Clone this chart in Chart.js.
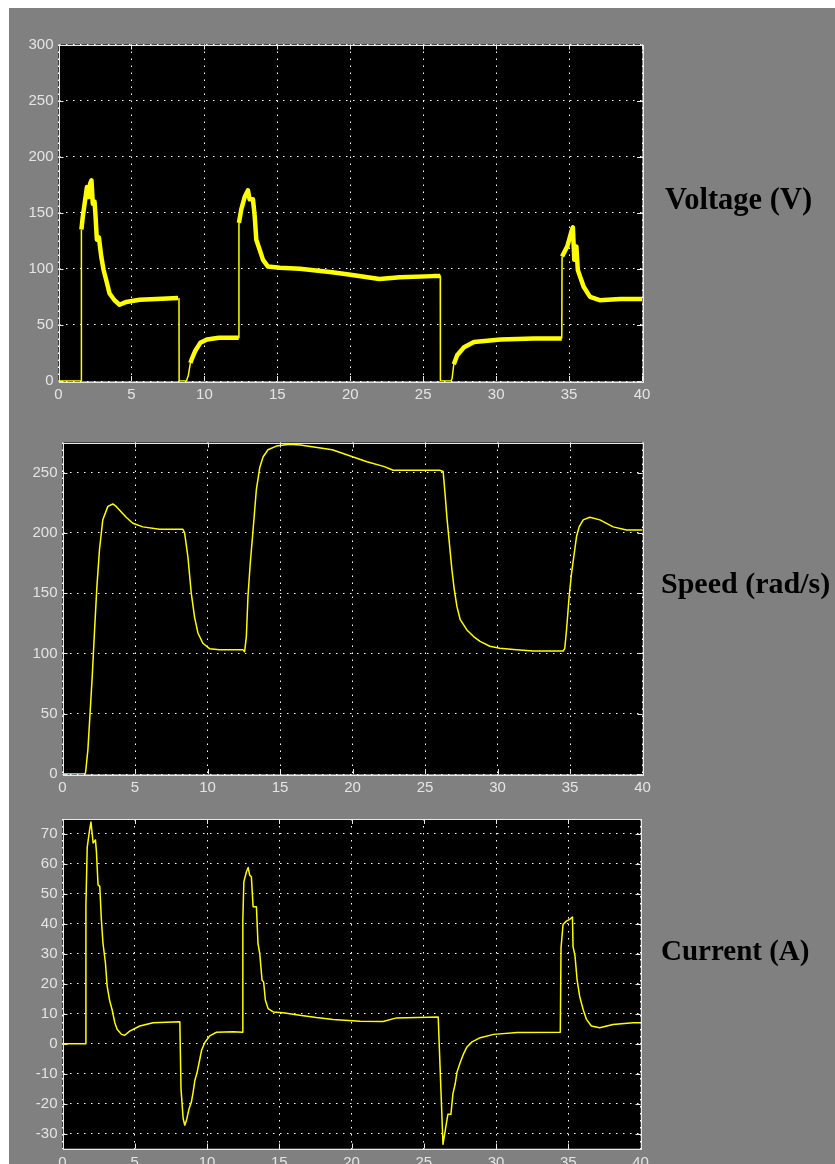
<!DOCTYPE html>
<html>
<head>
<meta charset="utf-8">
<script src="https://cdn.jsdelivr.net/npm/chart.js@4.4.1/dist/chart.umd.min.js"></script>
<style>
  html, body { margin: 0; padding: 0; background: #fff; overflow: hidden; }
  #page { position: relative; width: 835px; height: 1164px; overflow: hidden; }
  #backdrop { position: absolute; left: 9px; top: 8px; right: 0; bottom: 0; background: #808080; }
  canvas { position: absolute; left: 0; }
  .name { position: absolute; font-family: "Liberation Serif", "Times New Roman", serif; font-weight: bold; color: #000; line-height: 30px; white-space: nowrap; }
</style>
</head>
<body>
<div id="page">
  <div id="backdrop"></div>
  <canvas id="voltageChart" width="835" height="420" style="top:0px"></canvas>
  <canvas id="speedChart" width="835" height="395" style="top:415px"></canvas>
  <canvas id="currentChart" width="835" height="390" style="top:800px"></canvas>
  <div class="name" style="left:665px; top:184px; font-size:30.5px">Voltage (V)</div>
  <div class="name" style="left:661px; top:568px; font-size:30px">Speed (rad/s)</div>
  <div class="name" style="left:661px; top:935px; font-size:29px">Current (A)</div>
</div>
<script>
// time axis (s)
const timeTicks = [0, 5, 10, 15, 20, 25, 30, 35, 40];

// Voltage (V)
const voltageTime = [0, 1.56, 1.57, 1.67, 1.79, 1.95, 2.08, 2.17, 2.26, 2.35, 2.47, 2.54, 2.63, 2.77, 2.93, 3.09, 3.27, 3.5, 3.84, 4.19, 4.65, 5.56, 6.71, 8.2, 8.26,
  8.27, 8.77, 8.9, 9.04, 9.15, 9.38, 9.72, 10.18, 11.0, 12.36,
  12.37, 12.53, 12.76, 12.99, 13.1, 13.33, 13.45, 13.56, 13.79, 14.02, 14.36, 15.17, 16.55, 18.75, 19.9, 22.0, 23.4, 25.7, 26.17,
  26.18, 26.9, 26.98, 27.1, 27.33, 27.8, 28.48, 30.31, 32.6, 34.5,
  34.52, 34.88, 35.2, 35.26, 35.36, 35.5, 35.6, 35.76, 36.0, 36.44, 37.1, 38.5, 40];
const voltageValues = [0, 0, 135, 147, 158, 173, 164, 176, 179, 158, 160, 147, 126, 128, 111, 99, 90, 78, 72, 68, 70.5, 72.5, 73, 74, 74,
  0, 0, 5, 16, 20, 27, 34, 37, 38.5, 38.5,
  141, 153, 164, 170, 162, 162, 147, 126, 117, 108, 102, 101, 100, 97, 95, 91, 92.5, 93.5, 93.5,
  0, 0, 2, 15, 23, 30, 34.8, 37, 37.8, 37.8,
  111, 120, 135, 137, 108, 120, 99, 93, 84, 75, 72, 73, 73];

// Speed (rad/s)
const speedTime = [0, 1.52, 1.59, 1.75, 1.86, 2.05, 2.21, 2.37, 2.55, 2.78, 3.13, 3.47, 3.7, 4.39, 4.85, 5.54, 6.69, 8.3,
  8.42, 8.65, 8.88, 9.11, 9.34, 9.68, 10.14, 10.83, 12.44, 12.56,
  12.68, 12.79, 12.95, 13.14, 13.37, 13.6, 13.83, 14.17, 14.75, 15.67, 16.4, 18.6, 21.0, 22.2, 22.8, 26.02,
  26.25, 26.4, 26.51, 26.7, 26.86, 27.02, 27.2, 27.43, 27.89, 28.35, 28.8, 29.47, 30.16, 31.31, 32.46, 34.53,
  34.64, 34.76, 34.94, 35.1, 35.26, 35.45, 35.63, 35.91, 36.37, 37.06, 37.98, 38.9, 40];
const speedValues = [0, 0, 1, 20, 42, 81, 119, 155, 186, 211, 222, 224, 222, 213, 208, 205, 203, 203,
  200, 180, 150, 130, 117, 108.5, 104, 103, 103, 101.5,
  114, 147, 175, 202, 236, 254, 263, 269, 272, 273.5, 273, 269, 259, 255, 252, 252,
  251, 230, 213, 189, 169, 153, 139, 128, 119.5, 114, 110, 106, 104.3, 103, 102, 102,
  104.3, 119.5, 147, 166, 180, 197, 205, 210.8, 213, 210.8, 205, 202.5, 202.5];

// Current (A)
const currentTime = [0, 1.61, 1.62, 1.71, 1.85, 1.97, 2.12, 2.28, 2.35, 2.46, 2.58, 2.69, 2.8, 2.97, 3.09, 3.27, 3.43, 3.62, 3.78, 4.08, 4.31, 4.65, 5.35, 6.27, 8.12,
  8.2, 8.35, 8.46, 8.58, 8.76, 8.92, 9.04, 9.16, 9.32, 9.46, 9.62, 9.85, 10.19, 10.66, 11.81, 12.46,
  12.48, 12.55, 12.73, 12.85, 12.96, 13.07, 13.19, 13.42, 13.53, 13.65, 13.81, 13.92, 14.04, 14.23, 14.58, 15.27, 16.42, 17.56, 18.73, 20.58, 22.19, 23.12, 26.0,
  26.19, 26.33, 26.49, 26.67, 26.88, 27.02, 27.18, 27.3, 27.53, 27.76, 27.99, 28.34, 28.91, 29.84, 31.45, 34.45,
  34.5, 34.64, 34.87, 35.1, 35.29, 35.33, 35.47, 35.61, 35.79, 36.03, 36.26, 36.6, 37.18, 38.1, 39.48, 40];
const currentValues = [0, 0, 46, 65.5, 70.5, 74, 67, 68, 64, 53, 52.5, 41.4, 33.6, 27, 19.2, 14.2, 11.4, 7, 4.8, 3.1, 2.8, 4.2, 5.9, 7, 7.3,
  -15, -25, -27.2, -25.6, -21.7, -19.5, -16.2, -12.3, -9.5, -6.2, -2.3, 0.4, 2.6, 3.8, 4, 3.8,
  41.4, 54, 57.4, 58.8, 56.2, 55.7, 45.7, 45.7, 33.4, 30.1, 21.2, 20.6, 14.5, 11.7, 10.6, 10.3, 9.5, 8.7, 8.1, 7.5, 7.4, 8.6, 8.9,
  -15.6, -33.6, -28.9, -23.6, -23.6, -16.7, -13.3, -9.5, -6.2, -3.3, -1.1, 0.6, 2, 3.1, 3.7, 3.8,
  32, 39.8, 40.9, 41.5, 42.3, 32.5, 29.2, 21.4, 15.8, 11.4, 8.1, 5.9, 5.3, 6.4, 7, 7];

const voltageRange = [0, 300];
const speedRange = [0, 275];
const currentRange = [-35, 75];
const voltageTicks = [0, 50, 100, 150, 200, 250, 300];
const speedTicks = [0, 50, 100, 150, 200, 250];
const currentTicks = [-30, -20, -10, 0, 10, 20, 30, 40, 50, 60, 70];

// black plot area, light frame and small inward ticks like the scope window
const scopeFrame = {
  id: 'scopeFrame',
  beforeDraw(chart) {
    const {ctx, chartArea: a} = chart;
    ctx.save();
    ctx.fillStyle = '#000';
    ctx.fillRect(a.left, a.top, a.right - a.left, a.bottom - a.top);
    ctx.restore();
  },
  beforeDatasetsDraw(chart) {
    const {ctx, chartArea: a, scales} = chart;
    ctx.save();
    ctx.strokeStyle = '#e8e8e8';
    ctx.lineWidth = 1;
    ctx.beginPath();
    scales.x.ticks.forEach(t => {
      const px = Math.round(scales.x.getPixelForValue(t.value)) + 0.5;
      ctx.moveTo(px, a.bottom); ctx.lineTo(px, a.bottom - 5);
      ctx.moveTo(px, a.top); ctx.lineTo(px, a.top + 5);
    });
    scales.y.ticks.forEach(t => {
      const py = Math.round(scales.y.getPixelForValue(t.value)) + 0.5;
      ctx.moveTo(a.left, py); ctx.lineTo(a.left + 5, py);
      ctx.moveTo(a.right, py); ctx.lineTo(a.right - 5, py);
    });
    ctx.stroke();
    ctx.strokeRect(Math.round(a.left) + 0.5, Math.round(a.top) + 0.5,
      Math.round(a.right - a.left), Math.round(a.bottom - a.top));
    ctx.restore();
  }
};

const tickFont = { family: 'Liberation Sans', size: 15 };

function makeScope(canvasId, area, times, values, yRange, yTicks, segmentWidth) {
  const canvas = document.getElementById(canvasId);
  const top = parseFloat(canvas.style.top);
  const xAxisHeight = 24;
  return new Chart(canvas.getContext('2d'), {
    type: 'line',
    data: {
      datasets: [{
        data: times.map((t, i) => ({ x: t, y: values[i] })),
        borderColor: '#ffff00',
        borderWidth: 1.5,
        borderJoinStyle: 'round',
        borderCapStyle: 'butt',
        pointRadius: 0,
        tension: 0,
        segment: segmentWidth ? { borderWidth: segmentWidth } : undefined
      }]
    },
    options: {
      responsive: false,
      maintainAspectRatio: false,
      animation: false,
      events: [],
      layout: {
        padding: {
          left: 0,
          right: canvas.width - area.right,
          top: area.top - top,
          bottom: top + canvas.height - area.bottom - xAxisHeight
        }
      },
      scales: {
        x: {
          type: 'linear',
          min: 0,
          max: 40,
          afterFit: s => { s.height = xAxisHeight; },
          afterBuildTicks: s => { s.ticks = timeTicks.map(v => ({ value: v })); },
          grid: { color: '#ffffff', lineWidth: 1, drawTicks: false },
          border: { display: false, dash: [1.5, 5.5] },
          ticks: { color: '#e4e4e4', font: tickFont, padding: 5, maxRotation: 0 }
        },
        y: {
          type: 'linear',
          min: yRange[0],
          max: yRange[1],
          afterFit: s => { s.width = area.left; },
          afterBuildTicks: s => { s.ticks = yTicks.map(v => ({ value: v })); },
          grid: { color: '#ffffff', lineWidth: 1, drawTicks: false },
          border: { display: false, dash: [1.5, 5.5] },
          ticks: { color: '#e4e4e4', font: tickFont, padding: 5 }
        }
      },
      plugins: {
        legend: { display: false },
        tooltip: { enabled: false }
      }
    },
    plugins: [scopeFrame]
  });
}

// the voltage trace carries PWM ripple: draw its settled parts as a thicker band
const rippleWidth = ctx => {
  const y0 = ctx.p0.parsed.y, y1 = ctx.p1.parsed.y;
  const slope = Math.abs((y1 - y0) / (ctx.p1.parsed.x - ctx.p0.parsed.x));
  return (y0 > 8 && y1 > 8 && slope < 400) ? 4.5 : 1.5;
};

makeScope('voltageChart', { left: 58.5, top: 44.5, right: 642, bottom: 381 },
  voltageTime, voltageValues, voltageRange, voltageTicks, rippleWidth);
makeScope('speedChart', { left: 62.5, top: 442.5, right: 642.5, bottom: 774 },
  speedTime, speedValues, speedRange, speedTicks);
makeScope('currentChart', { left: 62.5, top: 819, right: 640.5, bottom: 1148.5 },
  currentTime, currentValues, currentRange, currentTicks);
</script>
</body>
</html>
